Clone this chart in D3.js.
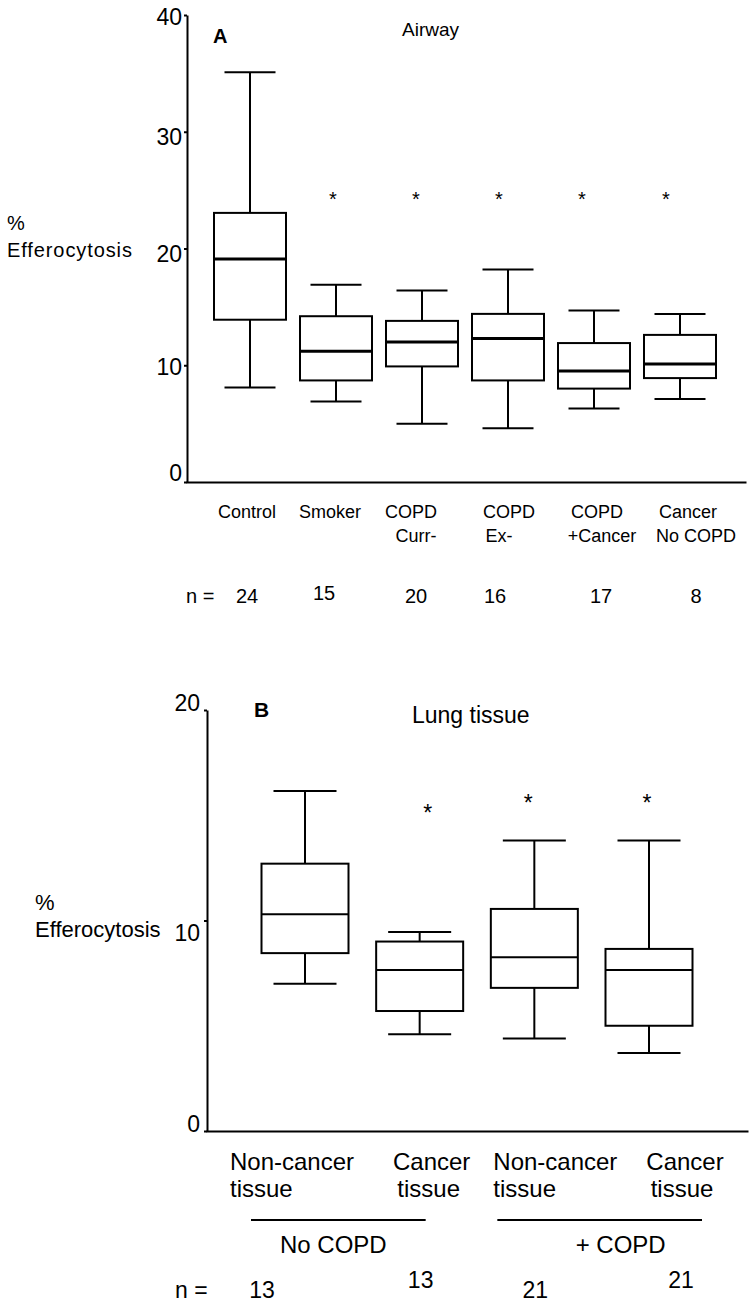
<!DOCTYPE html>
<html><head><meta charset="utf-8">
<script src="https://cdn.jsdelivr.net/npm/d3@7"></script>
<style>
html,body{margin:0;padding:0;background:#fff;}
text{font-family:"Liberation Sans",Arial,sans-serif;fill:#000;}
</style></head>
<body>
<svg id="chart" width="756" height="1308"></svg>
<script>
// ---------- Data: Panel A (Airway) ----------
const catsA = ["Control", "Smoker", "COPD Curr-", "COPD Ex-", "COPD +Cancer", "Cancer No COPD"];
const labelLinesA = [["Control"], ["Smoker"], ["COPD", "Curr-"], ["COPD", "Ex-"], ["COPD", "+Cancer"], ["Cancer", "No COPD"]];
const whiskerLowA  = [8.1, 6.9, 5.0, 4.6, 6.3, 7.1];
const q1A          = [13.9, 8.7, 9.9, 8.7, 8.0, 8.9];
const medianA      = [19.1, 11.2, 12.0, 12.3, 9.5, 10.1];
const q3A          = [23.05, 14.2, 13.8, 14.4, 11.9, 12.6];
const whiskerHighA = [35.1, 16.9, 16.4, 18.2, 14.7, 14.4];
const nA = [24, 15, 20, 16, 17, 8];
const sigA = [false, true, true, true, true, true];
const sigLevelA = 24.6;
const ticksA = [0, 10, 20, 30, 40];

// ---------- Data: Panel B (Lung tissue) ----------
const catsB = ["Non-cancer tissue (No COPD)", "Cancer tissue (No COPD)", "Non-cancer tissue (+ COPD)", "Cancer tissue (+ COPD)"];
const labelLinesB = [["Non-cancer", "tissue"], ["Cancer", "tissue"], ["Non-cancer", "tissue"], ["Cancer", "tissue"]];
const whiskerLowB  = [7.0, 4.6, 4.4, 3.7];
const q1B          = [8.45, 5.7, 6.8, 5.0];
const medianB      = [10.3, 7.65, 8.25, 7.65];
const q3B          = [12.7, 9.0, 10.55, 8.65];
const whiskerHighB = [16.15, 9.45, 13.8, 13.8];
const nB = [13, 13, 21, 21];
const sigB = [false, true, true, true];
const sigLevelB = [0, 15.35, 15.8, 15.8];
const groupsB = [{label: "No COPD", members: [0, 1]}, {label: "+ COPD", members: [2, 3]}];
const ticksB = [0, 10, 20];

// ---------- Layout (styling / text offsets) ----------
const font = '"Liberation Sans", Arial, sans-serif';
const svg = d3.select("#chart");

function drawBoxes(g, cats, x, y, lo, q1, med, q3, hi, bw, cw, medW) {
  const rows = cats.map((c, i) => ({c, lo: lo[i], q1: q1[i], med: med[i], q3: q3[i], hi: hi[i]}));
  const bx = g.selectAll("g.box").data(rows).join("g").attr("class", "box")
    .attr("stroke", "#000").attr("fill", "none").attr("stroke-width", 2);
  bx.append("line").attr("x1", d => x(d.c)).attr("x2", d => x(d.c)).attr("y1", d => y(d.hi)).attr("y2", d => y(d.q3));
  bx.append("line").attr("x1", d => x(d.c)).attr("x2", d => x(d.c)).attr("y1", d => y(d.q1)).attr("y2", d => y(d.lo));
  bx.append("line").attr("x1", d => x(d.c) - cw / 2).attr("x2", d => x(d.c) + cw / 2).attr("y1", d => y(d.hi)).attr("y2", d => y(d.hi));
  bx.append("line").attr("x1", d => x(d.c) - cw / 2).attr("x2", d => x(d.c) + cw / 2).attr("y1", d => y(d.lo)).attr("y2", d => y(d.lo));
  bx.append("rect").attr("x", d => x(d.c) - bw / 2).attr("width", bw)
    .attr("y", d => y(d.q3)).attr("height", d => y(d.q1) - y(d.q3));
  bx.append("line").attr("x1", d => x(d.c) - bw / 2).attr("x2", d => x(d.c) + bw / 2)
    .attr("y1", d => y(d.med)).attr("y2", d => y(d.med)).attr("stroke-width", medW);
}

// ================= Panel A =================
{
  const yA = d3.scaleLinear().domain([0, 40]).range([482, 15]);
  const xA = d3.scalePoint().domain(catsA).range([250, 680]);
  const axisX = 187, axisRight = 746;
  const g = svg.append("g");

  const ya = g.append("g").attr("transform", `translate(${axisX},0)`)
    .call(d3.axisLeft(yA).tickValues(ticksA).tickSize(3).tickSizeOuter(0).tickPadding(2));
  ya.select(".domain").attr("stroke", "#000").attr("stroke-width", 2);
  ya.selectAll(".tick line").attr("stroke", "#000").attr("stroke-width", 2);
  ya.selectAll(".tick text").attr("font-family", font).attr("font-size", 23)
    .attr("dy", d => d === 0 ? "-0.05em" : (d >= 20 && d < 40 ? "0.55em" : "0.4em"));

  const xa = g.append("g").attr("transform", `translate(0,${yA(0)})`)
    .call(d3.axisBottom(d3.scaleLinear().range([axisX - 1, axisRight])).tickValues([]).tickSizeOuter(0));
  xa.select(".domain").attr("stroke", "#000").attr("stroke-width", 2);

  drawBoxes(g, catsA, xA, yA, whiskerLowA, q1A, medianA, q3A, whiskerHighA, 72, 51, 3);

  const astOff = [0, -3, -6, -9, -12, -14];
  g.selectAll("text.sig").data(catsA.filter((c, i) => sigA[i])).join("text").attr("class", "sig")
    .attr("x", c => xA(c) + astOff[catsA.indexOf(c)]).attr("y", yA(sigLevelA) + 11)
    .attr("text-anchor", "middle").attr("font-size", 20).text("*");

  const l1Off = [-3, -6, -11, 1, 3, 8];
  const l2Off = [0, 0, -6, -9, 8, 16];
  catsA.forEach((c, i) => {
    labelLinesA[i].forEach((t, j) => {
      g.append("text").attr("x", xA(c) + (j === 0 ? l1Off[i] : l2Off[i])).attr("y", 518 + j * 24)
        .attr("text-anchor", "middle").attr("font-size", 18).text(t);
    });
  });

  const nOff = [-3, -12, -6, -13, 7, 16];
  g.append("text").attr("x", 186).attr("y", 603).attr("font-size", 20).text("n =");
  g.selectAll("text.n").data(catsA).join("text").attr("class", "n")
    .attr("x", (c, i) => xA(c) + nOff[i]).attr("y", (c, i) => i === 1 ? 600 : 603)
    .attr("text-anchor", "middle").attr("font-size", 20).text((c, i) => nA[i]);

  g.append("text").attr("x", 213).attr("y", 43).attr("font-size", 20).attr("font-weight", "bold").text("A");
  g.append("text").attr("x", 402).attr("y", 36).attr("font-size", 19).text("Airway");
  g.append("text").attr("x", 7).attr("y", 230).attr("font-size", 20).text("%");
  g.append("text").attr("x", 7).attr("y", 257).attr("font-size", 20).attr("letter-spacing", 0.9).text("Efferocytosis");
}

// ================= Panel B =================
{
  const yB = d3.scaleLinear().domain([0, 20]).range([1131, 710]);
  const xB = d3.scalePoint().domain(catsB).range([305, 649]);
  const axisX = 207, axisRight = 748;
  const g = svg.append("g");

  const ya = g.append("g").attr("transform", `translate(${axisX},0)`)
    .call(d3.axisLeft(yB).tickValues(ticksB).tickSize(3).tickSizeOuter(0).tickPadding(4));
  ya.select(".domain").attr("stroke", "#000").attr("stroke-width", 2);
  ya.selectAll(".tick line").attr("stroke", "#000").attr("stroke-width", 2);
  ya.selectAll(".tick text").attr("font-family", font).attr("font-size", 23)
    .attr("dy", d => d === 10 ? "0.85em" : "0em");

  const xa = g.append("g").attr("transform", `translate(0,${yB(0)})`)
    .call(d3.axisBottom(d3.scaleLinear().range([axisX - 1, axisRight])).tickValues([]).tickSizeOuter(0));
  xa.select(".domain").attr("stroke", "#000").attr("stroke-width", 2);

  drawBoxes(g, catsB, xB, yB, whiskerLowB, q1B, medianB, q3B, whiskerHighB, 87, 63, 2);

  const astOff = [0, 8, -6, -2];
  g.selectAll("text.sig").data(catsB.filter((c, i) => sigB[i])).join("text").attr("class", "sig")
    .attr("x", c => xB(c) + astOff[catsB.indexOf(c)])
    .attr("y", c => yB(sigLevelB[catsB.indexOf(c)]) + 13)
    .attr("text-anchor", "middle").attr("font-size", 23).text("*");

  const labCenter = [-13, 12, 21, 36];
  catsB.forEach((c, i) => {
    const t1 = g.append("text").attr("font-size", 24).attr("y", 1170).text(labelLinesB[i][0]);
    const w1 = t1.node().getComputedTextLength();
    const left = xB(c) + labCenter[i] - w1 / 2;
    t1.attr("x", left);
    const t2 = g.append("text").attr("font-size", 24).attr("y", 1197).text(labelLinesB[i][1]);
    const w2 = t2.node().getComputedTextLength();
    t2.attr("x", i % 2 === 0 ? left : xB(c) + labCenter[i] - 3 - w2 / 2);
  });

  const gExt = [[-54, 6], [-37, 53]];
  const gLabOff = [-29, 29];
  groupsB.forEach((grp, k) => {
    const a = xB(catsB[grp.members[0]]) + gExt[k][0];
    const b = xB(catsB[grp.members[1]]) + gExt[k][1];
    g.append("line").attr("x1", a).attr("x2", b).attr("y1", 1220).attr("y2", 1220)
      .attr("stroke", "#000").attr("stroke-width", 2);
    const mid = (xB(catsB[grp.members[0]]) + xB(catsB[grp.members[1]])) / 2;
    g.append("text").attr("x", mid + gLabOff[k]).attr("y", 1253).attr("text-anchor", "middle")
      .attr("font-size", 24).text(grp.label);
  });

  const nOff = [-43, 1, 1, 32];
  g.append("text").attr("x", 175).attr("y", 1298).attr("font-size", 23).text("n =");
  g.selectAll("text.n").data(catsB).join("text").attr("class", "n")
    .attr("x", (c, i) => xB(c) + nOff[i]).attr("y", (c, i) => i % 2 ? 1288 : 1298)
    .attr("text-anchor", "middle").attr("font-size", 23).text((c, i) => nB[i]);

  g.append("text").attr("x", 254).attr("y", 717).attr("font-size", 21).attr("font-weight", "bold").text("B");
  g.append("text").attr("x", 412).attr("y", 723).attr("font-size", 23).text("Lung tissue");
  g.append("text").attr("x", 35).attr("y", 910).attr("font-size", 22).text("%");
  g.append("text").attr("x", 35).attr("y", 937).attr("font-size", 22).text("Efferocytosis");
}
</script>
</body></html>
